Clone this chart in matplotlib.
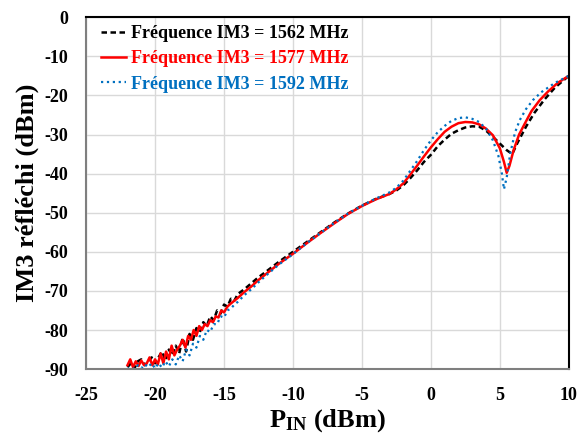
import numpy as np
import matplotlib.pyplot as plt

plt.rcParams['font.family'] = ['Liberation Serif', 'DejaVu Serif']
plt.rcParams['font.weight'] = 'bold'
plt.rcParams['axes.labelweight'] = 'bold'
plt.rcParams['axes.unicode_minus'] = False
plt.rcParams['mathtext.fontset'] = 'custom'
plt.rcParams['mathtext.rm'] = 'Liberation Serif:bold'
plt.rcParams['mathtext.it'] = 'Liberation Serif:bold'
plt.rcParams['mathtext.bf'] = 'Liberation Serif:bold'

# Fréquence IM3 = 1562 MHz
x_1562 = [-22, -21.75, -21.5, -21.25, -21, -20.75, -20.5, -20.25, -20, -19.75,
          -19.5, -19.25, -19, -18.75, -18.5, -18.25, -18, -17.75, -17.5, -17.25,
          -17, -16.75, -16.5, -16.25, -16, -15.75, -15.5, -15.25, -15, -14.75,
          -14.5, -14.25, -14, -13.5, -13, -12.5, -12, -11, -10, -9, -8, -7, -6,
          -5, -4, -3, -2.5, -2, -1.5, -1, -0.5, 0, 0.5, 1, 1.5, 2, 2.5, 3, 3.5,
          4, 4.5, 5, 5.5, 5.9, 6.3, 6.9, 7.5, 8.25, 9, 10]
y_1562 = [-89.5, -88.5, -89.8, -88, -87.5, -89, -88.2, -87, -88.5, -87,
          -85.5, -87.8, -85, -86.5, -84, -86, -82, -85.5, -81, -82.5,
          -79.5, -80.5, -78, -79, -76.5, -77.5, -75, -75.8, -73.5, -74,
          -72, -72.5, -70.8, -69.5, -68, -66.5, -65.2, -62.5, -60, -57.5, -55, -52.5, -50.2,
          -48.2, -46.5, -45.2, -44.3, -43, -41.2, -39.2, -37, -35.2, -33, -31.3, -29.8, -28.9, -28.2, -27.9, -28,
          -29, -30.6, -32.3, -34, -35, -32, -28, -24.5, -21, -18, -15]

# Fréquence IM3 = 1577 MHz
x_1577 = [-22, -21.8, -21.6, -21.4, -21.2, -21, -20.8, -20.6, -20.4, -20.2,
          -20, -19.8, -19.6, -19.4, -19.2, -19, -18.8, -18.6, -18.4, -18.2,
          -18, -17.8, -17.6, -17.4, -17.2, -17, -16.8, -16.6, -16.4, -16.2,
          -16, -15.8, -15.6, -15.4, -15.2, -15, -14.75, -14.5, -14.25, -14,
          -13.5, -13, -12.5, -12, -11, -10, -9, -8, -7, -6, -5, -4, -3, -2.5,
          -2, -1.5, -1, -0.5, 0, 0.5, 1, 1.5, 2, 2.5, 3, 3.5, 4, 4.5, 5, 5.3,
          5.5, 5.7, 6, 6.4, 6.8, 7.3, 7.9, 8.5, 9.2, 10]
y_1577 = [-89, -87.5, -89.5, -88, -89.2, -87.8, -89, -88.5, -87, -89,
          -87.5, -88.8, -86, -88.5, -85.5, -87.5, -84, -86.5, -85, -84,
          -82.5, -84.5, -81.5, -82.5, -80, -81.5, -79, -80, -78.5, -79,
          -77.5, -78, -76.5, -76.8, -75, -75.5, -74, -73.2, -72.5, -71.8,
          -70.2, -68.8, -67.2, -65.8, -63, -60.5, -57.8, -55.2, -52.7, -50.3, -48.3, -46.6, -45.2, -44,
          -42.5, -40.3, -38, -35.6, -33.3, -31.2, -29.3, -28, -27.1, -26.8, -26.9, -27.4, -28.5, -30.2, -33.5, -37,
          -39.8, -38, -34, -30, -27.3, -24, -21.2, -19, -16.8, -15]

# Fréquence IM3 = 1592 MHz
x_1592 = [-22, -21.75, -21.5, -21.25, -21, -20.75, -20.5, -20.25, -20, -19.75,
          -19.5, -19.25, -19, -18.75, -18.5, -18.25, -18, -17.75, -17.5, -17.25,
          -17, -16.75, -16.5, -16.25, -16, -15.75, -15.5, -15.25, -15, -14.75,
          -14.5, -14.25, -14, -13.5, -13, -12.5, -12, -11, -10, -9, -8, -7, -6,
          -5, -4, -3, -2.5, -2, -1.5, -1, -0.5, 0, 0.5, 1, 1.5, 2, 2.5, 3, 3.5,
          4, 4.5, 4.9, 5.15, 5.3, 5.5, 5.75, 6.1, 6.45, 6.9, 7.4, 8, 9, 10]
y_1592 = [-90, -89.5, -90, -89, -89.8, -88.8, -89.5, -88.5, -89.8, -88.5,
          -89.6, -88, -89.3, -87.5, -88.8, -86.5, -88, -85, -86.5, -83.5,
          -84.5, -81.5, -82.5, -80, -80.5, -78.5, -78.5, -76.5, -76.8, -75,
          -74.5, -73.5, -72.8, -71, -69.5, -67.8, -66.2, -63.2, -60.6, -57.8, -55.2, -52.6, -50.2,
          -48.2, -46.4, -44.8, -43.6, -41.8, -39.3, -36.8, -34, -31.5, -29.4, -27.8, -26.5, -25.8, -25.6, -26, -26.8,
          -28.5, -31.5, -35.5, -40, -44, -41, -35, -29.5, -26.3, -23.5, -21.2, -19.2, -16.8, -15]

x_ticks = [-25, -20, -15, -10, -5, 0, 5, 10]
y_ticks = [0, -10, -20, -30, -40, -50, -60, -70, -80, -90]

fig = plt.figure(figsize=(5.78, 4.41), dpi=100)
ax = fig.add_axes([0.149, 0.163, 0.835, 0.798])

ax.plot(x_1562, y_1562, color='black', linewidth=1.8, dashes=(2.2, 1.4),
        label='Fréquence IM3 = 1562 MHz')
ax.plot(x_1577, y_1577, '-', color='#FF0000', linewidth=1.8,
        label='Fréquence IM3 = 1577 MHz')
ax.plot(x_1592, y_1592, ':', color='#0070C0', linewidth=1.6,
        label='Fréquence IM3 = 1592 MHz')

ax.set_xlim(-25, 10)
ax.set_ylim(-90, 0)
ax.set_xticks(x_ticks)
ax.set_yticks(y_ticks)
ax.tick_params(length=0, labelsize=13, pad=13)
ax.grid(True, color='#D9D9D9', linewidth=1)
ax.set_axisbelow(True)

for side in ['left', 'bottom']:
    ax.spines[side].set_color('#7F7F7F')
    ax.spines[side].set_linewidth(1.5)
for side in ['top', 'right']:
    ax.spines[side].set_color('black')
    ax.spines[side].set_linewidth(1.5)

ax.set_xlabel('P$_{\\rm IN}$ (dBm)', fontsize=19, labelpad=2)
ax.set_ylabel('IM3 réfléchi (dBm)', fontsize=19, labelpad=4)

leg = ax.legend(loc='upper left', bbox_to_anchor=(0.014, 1.0), frameon=False,
                fontsize=13, handlelength=1.4, handletextpad=0.25,
                labelspacing=0.45, borderaxespad=0.15, borderpad=0.3,
                labelcolor='linecolor')

fig.savefig('out.png', dpi=100)
